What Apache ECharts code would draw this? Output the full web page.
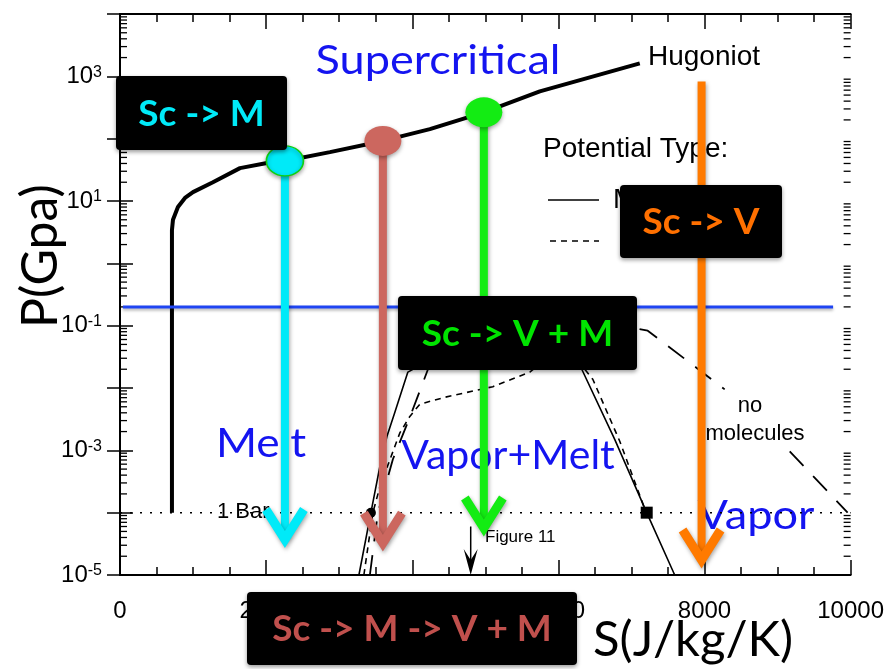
<!DOCTYPE html>
<html>
<head>
<meta charset="utf-8">
<script src="https://cdn.jsdelivr.net/npm/echarts@6/dist/echarts.min.js"></script>
<style>
    html, body { margin: 0; padding: 0; background: #fff; }
    #chart { width: 887px; height: 669px; }
</style>
</head>
<body>
<div id="chart"></div>
<script>
// Hugoniot curve, S in J/kg/K, P in GPa
const hugoniotS = [711, 711, 725, 793, 889, 999, 1272, 1642, 2011, 2257, 2873, 3598, 4241, 4980, 5746, 7114];
const hugoniotP = [1e-4, 3.4, 5.0, 8.0, 11.2, 13.9, 20, 33.7, 40.6, 43.7, 60.8, 92, 142, 265, 575, 1615];

// vapour dome, solid potential
const solidS = [3270, 3434, 3557, 3653, 3762, 3940, 5130, 6320, 6771, 7209, 7592];
const solidP = [1e-5, 1e-4, 5.5e-4, 1.66e-3, 4.1e-3, 0.018, 0.104, 0.02, 1.5e-3, 1e-4, 1e-5];

// vapour dome, dashed potential
const dashS = [3338, 3461, 3557, 3830, 3967, 4104, 4446, 5103, 5609, 6088, 6471, 6840, 7182];
const dashP = [1e-5, 1e-4, 2.6e-4, 1.9e-3, 3.5e-3, 5.5e-3, 7.1e-3, 0.0105, 0.018, 0.05, 0.0138, 1.4e-3, 1.15e-4];

// "no molecules" boundary (null = gap for the text)
const noMolS = [3420, 3530, 3735, 3967, 4241, 5472, 6019, 7223, 7893, 8276, 8700, 9166, 9685, 9959];
const noMolP = [1e-5, 1e-4, 7.2e-4, 3.4e-3, 0.024, 0.125, 0.15, 0.083, 0.021, 9.5e-3, null, 9.6e-4, 2.2e-4, 1e-4];

const blueS = [40, 9760];
const blueP = [0.2, 0.2];
const barS = [0, 10000];
const barP = [1e-4, 1e-4];

// triple points on the 1 bar line
const pointS = [3434, 7209];
const pointP = [1e-4, 1e-4];

// decompression paths
const arrowNames = ['Sc -> M', 'Sc -> M -> V + M', 'Sc -> V + M', 'Sc -> V'];
const arrowS = [2257, 3598, 4980, 7960];
const arrowTopP = [44, 92, 265, 830];
const arrowTipP = [3.2e-5, 2.8e-5, 4.9e-5, 1.5e-5];
const arrowColors = ['#00eaf8', '#cc675f', '#13ec13', '#ff7a00'];

const dotS = [2257, 3598, 4980];
const dotP = [44, 92, 265];

const figS = [4800];
const figTopP = [6e-5];
const figTipP = [1e-5];

const xTicks = [0, 2000, 4000, 6000, 8000, 10000];
const decades = [-5, -4, -3, -2, -1, 0, 1, 2, 3];
const mantissas = [2, 3, 4, 5, 6, 7, 8, 9];

let chartDom = document.getElementById('chart');
let myChart = echarts.init(chartDom);

function pairs(xs, ys) {
    return xs.map((x, i) => [x, ys[i]]);
}

// log-style minor tick values: 2..9 x 10^n
let logMinor = [];
for (const d of decades) {
    for (const m of mantissas) {
        logMinor.push([0, m * Math.pow(10, d)]);
    }
}

const helv = 'Liberation Sans, Arial, sans-serif';
const cal = 'Lato, Open Sans, sans-serif';

function xAxisOf(pos, labels) {
    return {
        type: 'value',
        position: pos,
        min: xTicks[0],
        max: xTicks[xTicks.length - 1],
        interval: xTicks[1] - xTicks[0],
        axisLine: { lineStyle: { color: '#000', width: 2 } },
        axisTick: { inside: true, length: 15, lineStyle: { color: '#000', width: 1.5 } },
        minorTick: { show: true, splitNumber: 4, length: 8, lineStyle: { color: '#000', width: 1.5 } },
        splitLine: { show: false },
        axisLabel: {
            show: labels, fontFamily: helv, fontSize: 24, color: '#000', margin: 24,
            formatter: function (v) { return String(v); }
        }
    };
}

function yAxisOf(pos, labels) {
    return {
        type: 'log',
        logBase: 10,
        position: pos,
        min: 1e-5,
        max: 1e4,
        splitNumber: 9,
        axisLine: { lineStyle: { color: '#000', width: 2 } },
        axisTick: { inside: true, length: 13, lineStyle: { color: '#000', width: 1.5 } },
        minorTick: { show: false },
        splitLine: { show: false },
        axisLabel: {
            show: labels,
            margin: 18,
            formatter: function (v) {
                let e = Math.round(Math.log10(v));
                if (e % 2 === 0) return '';
                return '{b|10}{s|' + e + '}';
            },
            rich: {
                b: { fontFamily: helv, fontSize: 24, color: '#000' },
                s: { fontFamily: helv, fontSize: 16, color: '#000', verticalAlign: 'top' }
            }
        }
    };
}

function minorTickItem(params, api) {
    let y = api.coord([0, api.value(1)])[1];
    let cs = params.coordSys;
    let st = { stroke: '#000', lineWidth: 1.3 };
    return {
        type: 'group',
        children: [
            { type: 'line', shape: { x1: cs.x, y1: y, x2: cs.x + 7, y2: y }, style: st },
            { type: 'line', shape: { x1: cs.x + cs.width - 7, y1: y, x2: cs.x + cs.width, y2: y }, style: st }
        ]
    };
}

function arrowItem(params, api) {
    let top = api.coord([api.value(0), api.value(1)]);
    let tip = api.coord([api.value(0), api.value(2)]);
    let color = api.visual('color');
    let shadow = { shadowBlur: 4, shadowColor: 'rgba(0,0,0,0.35)', shadowOffsetX: 1, shadowOffsetY: 2 };
    return {
        type: 'group',
        children: [{
            type: 'line',
            shape: { x1: top[0], y1: top[1], x2: tip[0], y2: tip[1] - 6 },
            style: Object.assign({ stroke: color, lineWidth: 8 }, shadow)
        }, {
            type: 'polyline',
            shape: { points: [[tip[0] - 19, tip[1] - 34], [tip[0], tip[1] - 4], [tip[0] + 19, tip[1] - 34]] },
            style: Object.assign({ stroke: color, fill: null, lineWidth: 9, lineJoin: 'miter' }, shadow)
        }]
    };
}

function figArrowItem(params, api) {
    let top = api.coord([api.value(0), api.value(1)]);
    let tip = api.coord([api.value(0), api.value(2)]);
    return {
        type: 'group',
        children: [{
            type: 'line',
            shape: { x1: top[0], y1: top[1], x2: tip[0], y2: tip[1] - 10 },
            style: { stroke: '#000', lineWidth: 1.5 }
        }, {
            type: 'polygon',
            shape: { points: [[tip[0], tip[1]], [tip[0] - 7, tip[1] - 26], [tip[0], tip[1] - 15], [tip[0] + 7, tip[1] - 26]] },
            style: { fill: '#000' }
        }]
    };
}

function txt(text, x, y, font, fill, align, sx) {
    return {
        type: 'text', x: x, y: y, z: 1, scaleX: sx || 1,
        style: { text: text, font: font, fill: fill, textAlign: align || 'left', textVerticalAlign: 'middle' }
    };
}

function box(x, y, w, h, text, color) {
    return {
        type: 'group', z: 100,
        children: [{
            type: 'rect', z: 100,
            shape: { x: x, y: y, width: w, height: h, r: 4 },
            style: { fill: '#000', shadowBlur: 4, shadowColor: 'rgba(0,0,0,0.4)', shadowOffsetY: 2 }
        }, {
            type: 'text', z: 101,
            x: x + w / 2, y: y + h / 2 + 1,
            style: { text: text, font: 'bold 37px ' + cal, fill: color, textAlign: 'center', textVerticalAlign: 'middle' }
        }]
    };
}

const blueText = '#1414f0';

let option = {
    animation: false,
    backgroundColor: '#fff',
    grid: { left: 120, right: 36, top: 14, bottom: 94, containLabel: false },
    xAxis: [xAxisOf('bottom', true), xAxisOf('top', false)],
    yAxis: [yAxisOf('left', true), yAxisOf('right', false)],
    graphic: {
        elements: [
            txt('Supercritical', 438, 61, '41px ' + cal, blueText, 'center', 1.1),
            txt('Melt', 261, 444, '41px ' + cal, blueText, 'center', 1.08),
            txt('Vapor+Melt', 508, 456, '41px ' + cal, blueText, 'center', 1.0),
            txt('Vapor', 756, 516, '41px ' + cal, blueText, 'center', 1.1),
            txt('Hugoniot', 648, 57, '28px ' + helv, '#000'),
            txt('Potential Type:', 543, 149, '28px ' + helv, '#000'),
            txt('M', 613, 200, '28px ' + helv, '#000'),
            txt('no', 750, 406, '22px ' + helv, '#000', 'center'),
            txt('molecules', 755, 434, '22px ' + helv, '#000', 'center'),
            txt('1 Bar', 217, 512, '22px ' + helv, '#000'),
            txt('Figure 11', 485, 537, '17px ' + helv, '#000'),
            txt('S(J/kg/K)', 593, 640, '49px ' + cal, '#000'),
            {
                type: 'text', x: 41, y: 256, rotation: Math.PI / 2, z: 1,
                style: { text: 'P(Gpa)', font: '50px ' + cal, fill: '#000', textAlign: 'center', textVerticalAlign: 'middle' }
            },
            { type: 'line', z: 1, shape: { x1: 548, y1: 200, x2: 599, y2: 200 }, style: { stroke: '#000', lineWidth: 1.5 } },
            { type: 'line', z: 1, shape: { x1: 550, y1: 241, x2: 599, y2: 241 }, style: { stroke: '#000', lineWidth: 1.5, lineDash: [6, 5] } },
            box(116, 76, 171, 74, arrowNames[0], arrowColors[0]),
            box(247, 592, 330, 73, arrowNames[1], '#c0504d'),
            box(398, 296, 239, 74, arrowNames[2], '#00e400'),
            box(620, 185, 162, 73, arrowNames[3], '#ff7000')
        ]
    },
    series: [{
        name: 'minor ticks',
        type: 'custom',
        z: 2,
        silent: true,
        renderItem: minorTickItem,
        encode: { x: 0, y: 1 },
        data: logMinor
    }, {
        name: '1 Bar',
        type: 'line',
        z: 2,
        symbol: 'none',
        data: pairs(barS, barP),
        lineStyle: { color: '#000', width: 1.5, type: [2, 8] }
    }, {
        name: 'solid',
        type: 'line',
        z: 2,
        symbol: 'none',
        data: pairs(solidS, solidP),
        lineStyle: { color: '#000', width: 1.6 }
    }, {
        name: 'dashed',
        type: 'line',
        z: 2,
        symbol: 'none',
        data: pairs(dashS, dashP),
        lineStyle: { color: '#000', width: 1.6, type: [6, 5] }
    }, {
        name: 'no molecules',
        type: 'line',
        z: 2,
        symbol: 'none',
        connectNulls: false,
        data: pairs(noMolS, noMolP),
        lineStyle: { color: '#000', width: 1.8, type: [20, 14] }
    }, {
        name: 'points',
        type: 'scatter',
        z: 3,
        data: pairs(pointS, pointP).map((p, i) => ({
            value: p,
            symbol: i === 0 ? 'circle' : 'rect',
            symbolSize: i === 0 ? 10 : 12
        })),
        itemStyle: { color: '#000', opacity: 1 }
    }, {
        name: 'Hugoniot',
        type: 'line',
        z: 3,
        symbol: 'none',
        data: pairs(hugoniotS, hugoniotP),
        lineStyle: { color: '#000', width: 4 }
    }, {
        name: 'P = 0.2 GPa',
        type: 'line',
        z: 3,
        symbol: 'none',
        data: pairs(blueS, blueP),
        lineStyle: { color: '#1f45f2', width: 3, shadowBlur: 3, shadowColor: 'rgba(0,0,0,0.3)', shadowOffsetY: 2 }
    }, {
        name: 'Figure 11',
        type: 'custom',
        z: 3,
        renderItem: figArrowItem,
        encode: { x: 0, y: [1, 2] },
        data: figS.map((s, i) => [s, figTopP[i], figTipP[i]])
    }, {
        name: 'paths',
        type: 'custom',
        z: 4,
        renderItem: arrowItem,
        encode: { x: 0, y: [1, 2] },
        data: arrowS.map((s, i) => ({
            value: [s, arrowTopP[i], arrowTipP[i]],
            itemStyle: { color: arrowColors[i] }
        }))
    }, {
        name: 'start',
        type: 'scatter',
        z: 5,
        symbol: 'circle',
        symbolSize: [37, 30],
        data: pairs(dotS, dotP).map((p, i) => ({
            value: p,
            itemStyle: {
                color: arrowColors[i],
                borderColor: i === 0 ? '#10d010' : arrowColors[i],
                borderWidth: i === 0 ? 1.5 : 0
            }
        })),
        itemStyle: { opacity: 1, shadowBlur: 4, shadowColor: 'rgba(0,0,0,0.35)', shadowOffsetY: 2 }
    }]
};

option && myChart.setOption(option);
</script>
</body>
</html>
